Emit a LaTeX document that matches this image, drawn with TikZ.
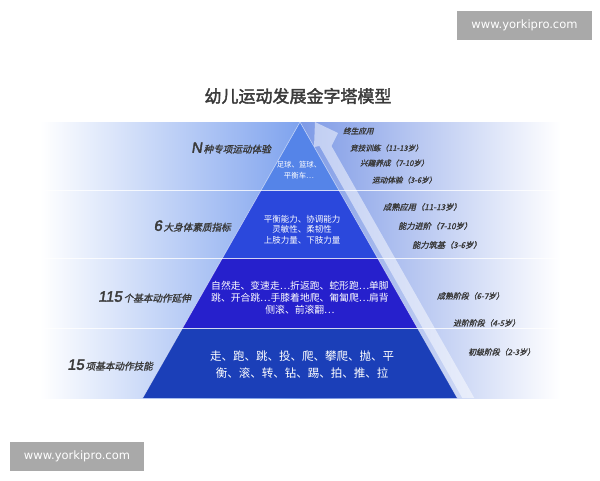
\documentclass[tikz,border=0pt]{standalone}
\usepackage{fontspec}
\setmainfont{Noto Sans CJK SC}
\newfontfamily\cjk{Noto Sans CJK SC}
\newfontfamily\cjkb{Noto Sans CJK SC}[FakeBold=2]
\newfontfamily\cjkbi{Noto Sans CJK SC}[FakeSlant=0.22,FakeBold=1.5]
\newfontfamily\numf{Liberation Sans}[FakeSlant=0.15,FakeBold=2.5]
\newfontfamily\wmf{DejaVu Sans}
\definecolor{lyA}{HTML}{5584E8}
\definecolor{lyB}{HTML}{2B48DC}
\definecolor{lyC}{HTML}{2620CC}
\definecolor{lyD}{HTML}{1B3FB8}
\definecolor{bandL}{HTML}{7FA3EE}
\definecolor{bandR}{HTML}{7E9AE6}
\definecolor{lbl}{HTML}{3A3A3A}
\definecolor{wm}{HTML}{A9A9A9}
\tikzset{
  leftlbl/.style={anchor=east,text=lbl,inner sep=0pt},
  rightlbl/.style={anchor=west,text=lbl,inner sep=0pt,font=\cjkbi\fontsize{8.2}{9}\selectfont},
  pyrtext/.style={text=white,align=center,inner sep=0pt},
  wmbox/.style={fill=wm,text=white,font=\wmf\fontsize{11.5}{12}\selectfont,inner sep=0pt,minimum height=29pt,minimum width=135pt},
}
\begin{document}
\begin{tikzpicture}[x=1pt,y=-1pt]
\useasboundingbox (0,0) rectangle (600,480);
\fill[white] (0,0) rectangle (600,480);
% bands
\foreach \ya/\yb in {122/190,190/258,258/328,328/398}{
  \shade[left color=white,right color=bandL] (40,\ya) rectangle (300,\yb);
  \shade[left color=bandR,right color=white] (300,\ya) rectangle (560,\yb);
}
% stripe arrow right of pyramid
\fill[white,opacity=0.5] (462.3,398) -- (474.3,398) -- (331.5,146) -- (338,133) -- (315,122) -- (314,147) -- (319.5,146) -- cycle;
% pyramid layers
\fill[lyA] (300,122) -- (338.8,190) -- (261.2,190) -- cycle;
\fill[lyB] (261.2,190) -- (338.8,190) -- (377.5,258) -- (222.5,258) -- cycle;
\fill[lyC] (222.5,258) -- (377.5,258) -- (417.4,328) -- (182.6,328) -- cycle;
\fill[lyD] (182.6,328) -- (417.4,328) -- (457.3,398) -- (142.7,398) -- cycle;
% dividers
\foreach \yy in {190,258,328}{
  \draw[white,line width=0.8pt,opacity=0.8] (40,\yy) -- (560,\yy);
}
\draw[white,line width=0.6pt,opacity=0.6] (142.7,398) -- (300,122) -- (457.3,398);
% title
\node[text=lbl,font=\cjkb\fontsize{17}{20}\selectfont] (title) at (298,96) {幼儿运动发展金字塔模型};
% left labels
\node[leftlbl] (l1) at (271,148) {{\numf\fontsize{15}{16}\selectfont N}\hspace{1.5pt}{\cjkbi\fontsize{9.6}{12}\selectfont 种专项运动体验}};
\node[leftlbl] (l2) at (231,226) {{\numf\fontsize{15}{16}\selectfont 6}\hspace{1.5pt}{\cjkbi\fontsize{9.6}{12}\selectfont 大身体素质指标}};
\node[leftlbl] (l3) at (191,297) {{\numf\fontsize{15}{16}\selectfont 115}\hspace{1.5pt}{\cjkbi\fontsize{9.6}{12}\selectfont 个基本动作延伸}};
\node[leftlbl] (l4) at (153,365) {{\numf\fontsize{15}{16}\selectfont 15}\hspace{1.5pt}{\cjkbi\fontsize{9.6}{12}\selectfont 项基本动作技能}};
% pyramid texts
\node[pyrtext,font=\cjk\fontsize{7.4}{11}\selectfont] (p1) at (299,170.5) {足球、篮球、\\平衡车…};
\node[pyrtext,font=\cjk\fontsize{8.5}{10.5}\selectfont] (p2) at (302,229.5) {平衡能力、协调能力\\灵敏性、柔韧性\\上肢力量、下肢力量};
\node[pyrtext,font=\cjk\fontsize{9.8}{12}\selectfont] (p3) at (300,298) {自然走、变速走…折返跑、蛇形跑…单脚\\跳、开合跳…手膝着地爬、匍匐爬…肩背\\侧滚、前滚翻…};
\node[pyrtext,font=\cjk\fontsize{11.5}{17}\selectfont] (p4) at (302,364.5) {走、跑、跳、投、爬、攀爬、抛、平\\衡、滚、转、钻、踢、拍、推、拉};
% right labels
\node[rightlbl,font=\cjkbi\fontsize{7.6}{8}\selectfont] (r1) at (343,131) {终生应用};
\node[rightlbl,font=\cjkbi\fontsize{7.6}{8}\selectfont] (r2) at (350,148) {竞技训练（11-13岁）};
\node[rightlbl,font=\cjkbi\fontsize{7.6}{8}\selectfont] (r3) at (360,163) {兴趣养成（7-10岁）};
\node[rightlbl,font=\cjkbi\fontsize{7.6}{8}\selectfont] (r4) at (372,180) {运动体验（3-6岁）};
\node[rightlbl] (r5) at (383,207) {成熟应用（11-13岁）};
\node[rightlbl] (r6) at (398,226) {能力进阶（7-10岁）};
\node[rightlbl] (r7) at (412,245) {能力筑基（3-6岁）};
\node[rightlbl,font=\cjkbi\fontsize{7.9}{9}\selectfont] (r8) at (437,296) {成熟阶段（6-7岁）};
\node[rightlbl,font=\cjkbi\fontsize{7.9}{9}\selectfont] (r9) at (453,323) {进阶阶段（4-5岁）};
\node[rightlbl,font=\cjkbi\fontsize{7.9}{9}\selectfont] (r10) at (468,352) {初级阶段（2-3岁）};
% watermarks
\node[wmbox] (wm1) at (524.5,25) {www.yorkipro.com};
\node[wmbox,minimum width=134pt] (wm2) at (77,456) {www.yorkipro.com};
\end{tikzpicture}
\end{document}
